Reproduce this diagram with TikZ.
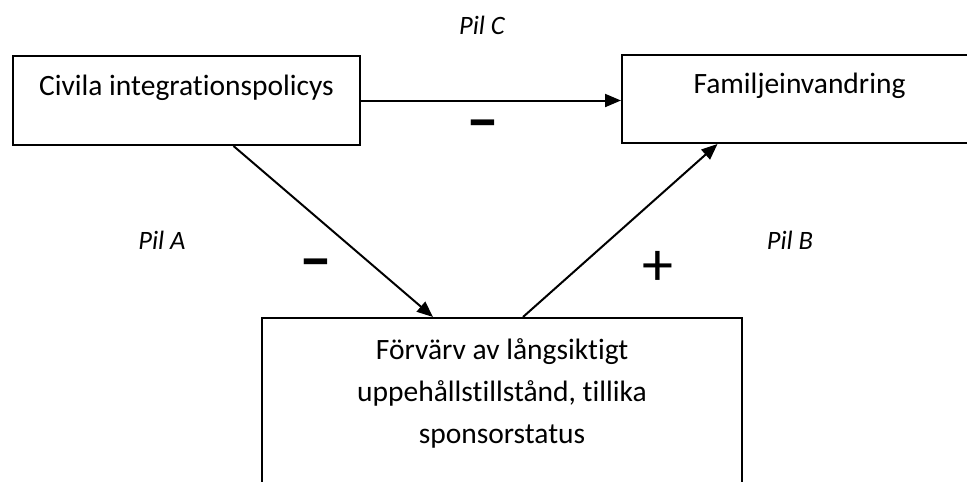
\documentclass[tikz,border=0pt]{standalone}
\usepackage{fontspec}
\setmainfont{Carlito}[Ligatures=NoCommon]
\usetikzlibrary{arrows.meta}
\tikzset{box/.style={draw,line width=2pt,inner sep=0pt,anchor=north west},
  pil/.style={line width=2pt,-{Triangle[length=16pt,width=13pt]}},
  pilname/.style={font=\fontsize{26.5}{32}\selectfont\itshape},
  sign/.style={inner sep=0pt}}

\begin{document}
\begin{tikzpicture}[x=1pt,y=-1pt,font=\fontsize{29.5}{42}\selectfont]
  \useasboundingbox (0,0) rectangle (967,482);
  \node[box,minimum width=347pt,minimum height=89pt,text height=39pt,text depth=50pt] (civ) at (12,55) {Civila integrationspolicys};
  \node[box,minimum width=355pt,minimum height=88pt,text height=38pt,text depth=50pt] (fam) at (621,54) {Familjeinvandring};
  \node[box,minimum width=480pt,align=center,text height=125pt,text depth=120pt] (forv) at (261,317) {F\"orv\"arv av l\aa ngsiktigt\\uppeh\aa llstillst\aa nd, tillika\\sponsorstatus};
  \draw[pil] (civ.east) -- (civ.east -| fam.west);
  \draw[pil] ([xshift=47pt]civ.south) -- ([xshift=-69pt]forv.north);
  \draw[pil] ([xshift=21pt]forv.north) -- ([xshift=-82pt]fam.south);
  % pilarnas namn och tecken
  \node[pilname] (pc) at (482,25) {Pil C};
  \node[pilname] (pa) at (162,240) {Pil A};
  \node[pilname] (pb) at (790,240) {Pil B};
  \node[sign,font=\fontsize{66}{66}\selectfont\bfseries] (mc) at (483,131) {–};
  \node[sign,font=\fontsize{66}{66}\selectfont\bfseries] (ma) at (316,270) {–};
  \node[sign,font=\fontsize{62}{62}\selectfont] (pl) at (658,268) {+};
\end{tikzpicture}
\end{document}
